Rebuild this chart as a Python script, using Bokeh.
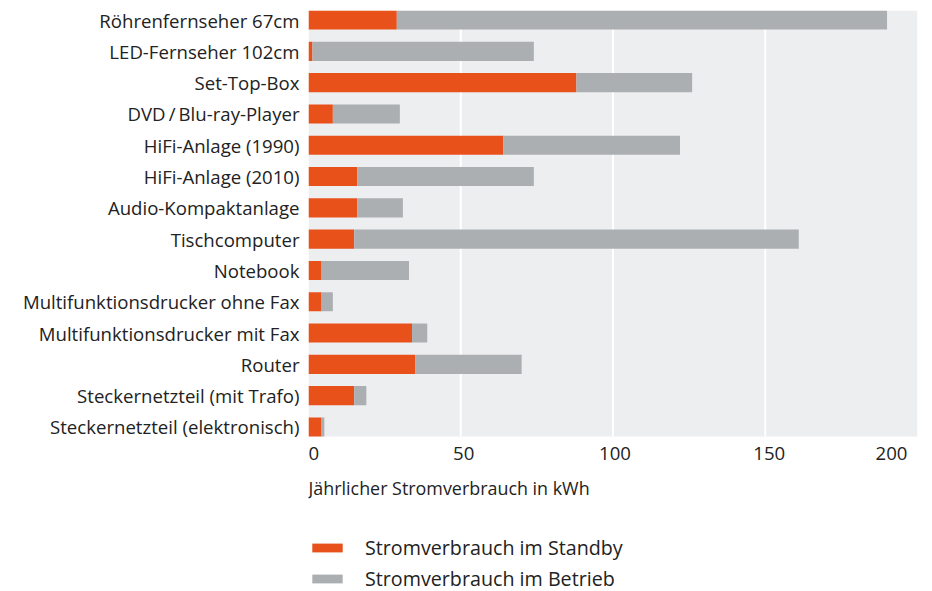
import numpy as np
from bokeh.plotting import figure
from bokeh.models import (ColumnDataSource, Range1d, FixedTicker, LabelSet, Label,
                          Legend, LegendItem, BoxAnnotation)
from bokeh.core.properties import value
from bokeh.embed import file_html
from bokeh.resources import INLINE

categories = [
    "Röhrenfernseher 67cm",
    "LED-Fernseher 102cm",
    "Set-Top-Box",
    "DVD\u2009/\u2009Blu-ray-Player",
    "HiFi-Anlage (1990)",
    "HiFi-Anlage (2010)",
    "Audio-Kompaktanlage",
    "Tischcomputer",
    "Notebook",
    "Multifunktionsdrucker ohne Fax",
    "Multifunktionsdrucker mit Fax",
    "Router",
    "Steckernetzteil (mit Trafo)",
    "Steckernetzteil (elektronisch)",
]
standby = [29, 1.3, 88, 8, 64, 16, 16, 15, 4.3, 4.3, 34, 35, 15, 4.3]
betrieb = [161, 72.7, 38, 22, 58, 58, 15, 146, 28.7, 3.7, 5, 35, 4, 0.9]

x_ticks = [0, 50, 100, 150, 200]
x_tick_labels = ["0", "50", "100", "150", "200"]
grid_ticks = [50, 100, 150]
x_title = "Jährlicher Stromverbrauch in kWh"
series_names = ["Stromverbrauch im Standby", "Stromverbrauch im Betrieb"]

ORANGE = "#E9511B"
GREY = "#ACAFB1"
BG = "#EDEEF0"
TXT = "#222222"
FONT = "Open Sans"

W, H = 924, 591
LEFT, TOP, RIGHT = 308, 10, 7
PLOT_H = 426          # height of the grey plotting area in px

n = len(categories)
ypos = list(range(n))
total = (np.array(standby) + np.array(betrieb)).tolist()
src = ColumnDataSource(dict(y=ypos, standby=standby, total=total))

bar_h = 0.61
y_top = -bar_h / 2
y_plot_bottom = n - 1 + bar_h / 2
unit_px = PLOT_H / (y_plot_bottom - y_top)
y_frame_bottom = y_plot_bottom + (H - TOP - PLOT_H) / unit_px

p = figure(width=W, height=H, output_backend="svg", toolbar_location=None,
           x_range=Range1d(0, 200),
           y_range=Range1d(y_frame_bottom, y_top),
           min_border_left=LEFT, min_border_right=RIGHT, min_border_top=TOP,
           min_border_bottom=0)
p.background_fill_color = "white"
p.border_fill_color = "white"
p.outline_line_color = None
p.xaxis.visible = False
p.grid.visible = False

# grey plotting area
p.add_layout(BoxAnnotation(left=0, right=200, top=y_top, bottom=y_plot_bottom,
                           fill_color=BG, fill_alpha=1, line_color=None,
                           level="underlay"))
# vertical white grid lines
p.segment(x0=grid_ticks, x1=grid_ticks, y0=[y_top] * len(grid_ticks),
          y1=[y_plot_bottom] * len(grid_ticks), line_color="white", line_width=2)

r1 = p.hbar(y="y", left=0, right="standby", height=bar_h, source=src,
            fill_color=ORANGE, line_color=None)
r2 = p.hbar(y="y", left="standby", right="total", height=bar_h, source=src,
            fill_color=GREY, line_color=None)

yax = p.yaxis[0]
yax.ticker = FixedTicker(ticks=ypos)
yax.major_label_overrides = {i: c for i, c in enumerate(categories)}
yax.axis_line_color = None
yax.major_tick_line_color = None
yax.minor_tick_line_color = None
yax.major_label_standoff = 3
yax.major_label_text_font = FONT
yax.major_label_text_font_size = "18.6px"
yax.major_label_text_color = TXT

# x tick labels
tick_align = ["left", "center", "center", "center", "right"]
tick_offset = [0, 3, 2, 4, -10]
tsrc = ColumnDataSource(dict(x=x_ticks, y=[y_plot_bottom] * len(x_ticks),
                             text=x_tick_labels, align=tick_align, off=tick_offset))
p.add_layout(LabelSet(x="x", y="y", text="text", source=tsrc, x_offset="off",
                      y_offset=-17, text_align="align", text_baseline="middle",
                      text_font=value(FONT), text_font_size=value("18.6px"),
                      text_color=TXT))

p.add_layout(Label(x=0, y=y_plot_bottom, text=x_title, y_offset=-51,
                   text_align="left", text_baseline="middle", text_font=FONT,
                   text_font_size="17.9px", text_color=TXT))

legend = Legend(items=[LegendItem(label=series_names[0], renderers=[r1]),
                       LegendItem(label=series_names[1], renderers=[r2])],
                location=(0, -1), orientation="vertical",
                glyph_width=38, glyph_height=11, label_height=11,
                spacing=4, padding=0, margin=0, label_standoff=19,
                border_line_color=None, background_fill_alpha=0,
                label_text_font=FONT, label_text_font_size="19.7px",
                label_text_color=TXT)
p.add_layout(legend, "center")

open("out.html", "w").write(file_html(p, INLINE))
